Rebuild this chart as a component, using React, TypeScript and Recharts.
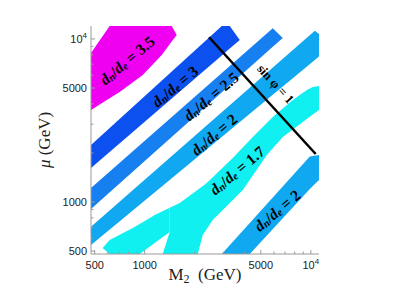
import React from "react";
import { ComposedChart, Area, Line, Scatter, XAxis, YAxis, Label } from "recharts";

// M2 and mu in GeV, both log axes
const xDomain = [475, 11200];
const yDomain = [480, 12000];
const logTicks = [500, 600, 700, 800, 900, 1000, 2000, 3000, 4000, 5000, 6000, 7000, 8000, 9000, 10000];
const majorTicks = [500, 1000, 5000, 10000];

// each band: at a given M2 the band covers mu from lo to hi
const band35 = [
  { x: 475, lo: 3670, hi: 8210 },
  { x: 615, lo: 4330, hi: 12000 },
  { x: 707, lo: 4730, hi: 12000 },
  { x: 973, lo: 6010, hi: 12000 },
  { x: 1266, lo: 7980, hi: 12000 },
  { x: 1454, lo: 9630, hi: 12000 },
  { x: 1559, lo: 10580, hi: 10580 },
];
const band3 = [
  { x: 475, lo: 1617, hi: 2237 },
  { x: 2910, lo: 7920, hi: 12000 },
  { x: 3250, lo: 8730, hi: 12000 },
  { x: 3735, lo: 9860, hi: 9860 },
];
const band25 = [
  { x: 475, lo: 906, hi: 1219 },
  { x: 5900, lo: 8940, hi: 11630 },
  { x: 6780, lo: 10140, hi: 10140 },
];
const band2 = [
  { x: 475, lo: 545, hi: 706 },
  { x: 10570, lo: 7430, hi: 11240 },
  { x: 11200, lo: 7790, hi: 10730 },
];
// the 1.7 region has a notch at the bottom, so it is split in two
const band17left = [
  { x: 558, lo: 522, hi: 522 },
  { x: 615, lo: 480, hi: 585 },
  { x: 847, lo: 480, hi: 693 },
  { x: 933, lo: 480, hi: 734 },
  { x: 1149, lo: 560, hi: 832 },
  { x: 1414, lo: 655, hi: 921 },
];
const band17right = [
  { x: 1284, lo: 480, hi: 480 },
  { x: 1414, lo: 480, hi: 655 },
  { x: 1414, lo: 480, hi: 921 },
  { x: 1625, lo: 480, hi: 986 },
  { x: 2086, lo: 480, hi: 1190 },
  { x: 2236, lo: 627, hi: 1254 },
  { x: 2363, lo: 683, hi: 1308 },
  { x: 2568, lo: 775, hi: 1419 },
  { x: 3389, lo: 1029, hi: 1862 },
  { x: 3894, lo: 1185, hi: 2160 },
  { x: 4473, lo: 1456, hi: 2505 },
  { x: 5431, lo: 1943, hi: 3052 },
  { x: 5903, lo: 2137, hi: 3322 },
  { x: 6781, lo: 2505, hi: 3746 },
  { x: 7792, lo: 2785, hi: 4225 },
  { x: 9461, lo: 3230, hi: 4865 },
  { x: 10280, lo: 3442, hi: 5077 },
  { x: 11200, lo: 3667, hi: 5149 },
];
const band2low = [
  { x: 2910, lo: 480, hi: 480 },
  { x: 4290, lo: 480, hi: 743 },
  { x: 9860, lo: 1200, hi: 1900 },
  { x: 11200, lo: 1365, hi: 1943 },
];

const sinLine = [
  { x: 2440, y: 10240 },
  { x: 10700, y: 1970 },
];

const ratioLabels = [
  { x: 779, y: 7430, text: "3.5" },
  { x: 1516, y: 5150, text: "3" },
  { x: 2498, y: 4470, text: "2.5" },
  { x: 2604, y: 2613, text: "2" },
  { x: 3583, y: 1572, text: "1.7" },
  { x: 6241, y: 893, text: "2" },
];
const sinLabel = [{ x: 6150, y: 5300, text: "sin φ = 1" }];

const AXIS = "#999";
const SANS = "'Liberation Sans', Arial, sans-serif";
const SERIF = "'Liberation Serif', 'Times New Roman', serif";

const tickText = (v: number) =>
  v === 10000 ? (
    <>
      10<tspan dy={-5} fontSize={8}>4</tspan>
    </>
  ) : (
    String(v)
  );

const BottomTick = ({ x, y, payload }: any) => {
  const major = majorTicks.includes(payload.value);
  return (
    <g>
      <line x1={x} y1={y} x2={x} y2={y - (major ? 4 : 2.5)} stroke={AXIS} />
      {major && (
        <text x={x} y={y + 15} textAnchor="middle" fontSize={11} fill="#222" fontFamily={SANS}>
          {tickText(payload.value)}
        </text>
      )}
    </g>
  );
};

const TopTick = ({ x, y, payload }: any) => {
  const major = majorTicks.includes(payload.value);
  return <line x1={x} y1={y} x2={x} y2={y + (major ? 4 : 2.5)} stroke={AXIS} />;
};

const LeftTick = ({ x, y, payload }: any) => {
  const major = majorTicks.includes(payload.value);
  return (
    <g>
      <line x1={x} y1={y} x2={x + (major ? 4 : 2.5)} y2={y} stroke={AXIS} />
      {major && (
        <text x={x - 4} y={y + 4} textAnchor="end" fontSize={11} fill="#222" fontFamily={SANS}>
          {tickText(payload.value)}
        </text>
      )}
    </g>
  );
};

const RightTick = ({ x, y, payload }: any) => {
  const major = majorTicks.includes(payload.value);
  return <line x1={x} y1={y} x2={x - (major ? 4 : 2.5)} y2={y} stroke={AXIS} />;
};

const RatioLabel = (props: any) => {
  const { cx, cy, payload } = props;
  return (
    <text
      x={cx}
      y={cy}
      transform={`rotate(-40, ${cx}, ${cy})`}
      textAnchor="middle"
      dominantBaseline="central"
      fontFamily={SERIF}
      fontWeight="bold"
      fontSize={15.5}
      fill="#000"
    >
      <tspan fontStyle="italic">d</tspan>
      <tspan fontStyle="italic" fontSize={10.5} dy={3}>n</tspan>
      <tspan dy={-3}>/</tspan>
      <tspan fontStyle="italic">d</tspan>
      <tspan fontStyle="italic" fontSize={10.5} dy={3}>e</tspan>
      <tspan dy={-3}>{`\u00a0=\u00a0${payload.text}`}</tspan>
    </text>
  );
};

const SinLabel = (props: any) => {
  const { cx, cy, payload } = props;
  return (
    <text
      x={cx}
      y={cy}
      transform={`rotate(48, ${cx}, ${cy})`}
      textAnchor="middle"
      dominantBaseline="central"
      fontFamily={SERIF}
      fontWeight="bold"
      fontSize={13}
      fill="#000"
    >
      {payload.text}
    </text>
  );
};

const range = (d: any) => [d.lo, d.hi];

export default function App() {
  const bands = [
    { data: band35, color: "#f000f0" },
    { data: band3, color: "#0c50f0" },
    { data: band25, color: "#1780f0" },
    { data: band2, color: "#10a8f0" },
    { data: band17left, color: "#10f0f0" },
    { data: band17right, color: "#10f0f0" },
    { data: band2low, color: "#10a8f0" },
  ];

  return (
    <ComposedChart width={390} height={290} margin={{ top: 18, right: 79, bottom: 14, left: 0 }}>
      <XAxis
        type="number"
        dataKey="x"
        scale="log"
        domain={xDomain}
        allowDataOverflow
        ticks={logTicks}
        interval={0}
        tickSize={0}
        tickMargin={0}
        tick={<BottomTick />}
        axisLine={{ stroke: AXIS }}
        height={30}
      >
        <Label
          content={({ viewBox }: any) => (
            <text
              x={viewBox.x + viewBox.width / 2}
              y={viewBox.y + 26}
              textAnchor="middle"
              fontFamily={SERIF}
              fontSize={17}
              fill="#222"
            >
              M<tspan dy={3} fontSize={12}>2</tspan>
              <tspan dy={-3}>{"\u00a0\u00a0(GeV)"}</tspan>
            </text>
          )}
        />
      </XAxis>
      <XAxis
        xAxisId="top"
        orientation="top"
        type="number"
        dataKey="x"
        scale="log"
        domain={xDomain}
        allowDataOverflow
        ticks={logTicks}
        interval={0}
        tickSize={0}
        tickMargin={0}
        tick={<TopTick />}
        axisLine={{ stroke: AXIS }}
        height={0}
      />
      <YAxis
        type="number"
        dataKey="y"
        scale="log"
        domain={yDomain}
        allowDataOverflow
        ticks={logTicks}
        interval={0}
        tickSize={0}
        tickMargin={0}
        tick={<LeftTick />}
        axisLine={{ stroke: AXIS }}
        width={83}
      >
        <Label
          content={({ viewBox }: any) => {
            const cx = viewBox.x + 42;
            const cy = viewBox.y + viewBox.height / 2;
            return (
              <text
                x={cx}
                y={cy}
                transform={`rotate(-90, ${cx}, ${cy})`}
                textAnchor="middle"
                fontFamily={SERIF}
                fontSize={17}
                fill="#222"
              >
                <tspan fontStyle="italic">μ</tspan>
                {"\u00a0(GeV)"}
              </text>
            );
          }}
        />
      </YAxis>
      <YAxis
        yAxisId="right"
        orientation="right"
        type="number"
        dataKey="y"
        scale="log"
        domain={yDomain}
        allowDataOverflow
        ticks={logTicks}
        interval={0}
        tickSize={0}
        tickMargin={0}
        tick={<RightTick />}
        axisLine={{ stroke: AXIS }}
        width={0}
      />
      {bands.map((b, i) => (
        <Area
          key={i}
          data={b.data}
          dataKey={range}
          type="linear"
          stroke="none"
          fill={b.color}
          fillOpacity={1}
          isAnimationActive={false}
        />
      ))}
      <Line
        data={sinLine}
        dataKey="y"
        type="linear"
        stroke="#000"
        strokeWidth={2.5}
        dot={false}
        isAnimationActive={false}
      />
      <Scatter data={ratioLabels} dataKey="y" shape={<RatioLabel />} isAnimationActive={false} />
      <Scatter data={sinLabel} dataKey="y" shape={<SinLabel />} isAnimationActive={false} />
    </ComposedChart>
  );
}
